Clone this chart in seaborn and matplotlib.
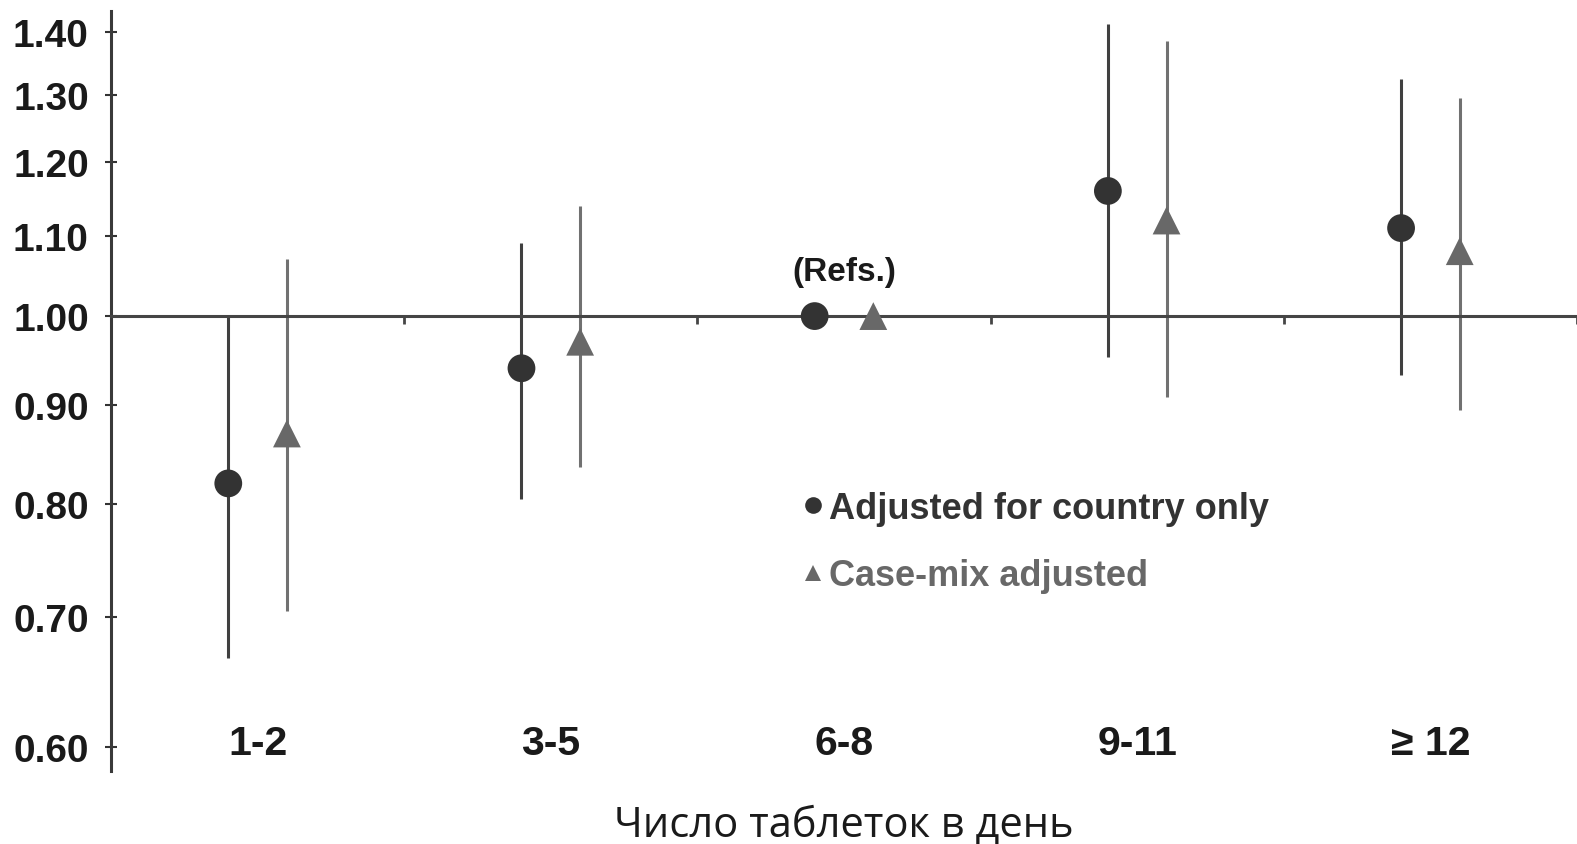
import numpy as np
import pandas as pd
import matplotlib
matplotlib.use("Agg")
import matplotlib.pyplot as plt
from matplotlib.lines import Line2D
from matplotlib.ticker import FixedLocator, FixedFormatter, NullLocator
import seaborn as sns

# Pill-count groups and the two adjusted estimates (odds ratios with 95% CI)
categories = ["1-2", "3-5", "6-8", "9-11", "≥ 12"]
series = ["Adjusted for country only", "Case-mix adjusted"]

country_or = [0.82, 0.94, 1.00, 1.16, 1.11]
country_lo = [0.667, 0.805, np.nan, 0.953, 0.933]
country_hi = [1.00, 1.09, np.nan, 1.414, 1.325]

casemix_or = [0.87, 0.97, 1.00, 1.12, 1.08]
casemix_lo = [0.705, 0.836, np.nan, 0.909, 0.895]
casemix_hi = [1.07, 1.139, np.nan, 1.385, 1.295]

y_ticks = [0.60, 0.70, 0.80, 0.90, 1.00, 1.10, 1.20, 1.30, 1.40]
ref_label = "(Refs.)"
ref_index = 2
x_title = "Число таблеток в день"

sns.set_theme(style="white")
plt.rcParams["font.family"] = ["Liberation Sans", "DejaVu Sans"]

# tidy table for plotting
rows = []
for i, cat in enumerate(categories):
    rows.append(dict(cat=cat, idx=i, series=series[0],
                     est=country_or[i], lo=country_lo[i], hi=country_hi[i]))
    rows.append(dict(cat=cat, idx=i, series=series[1],
                     est=casemix_or[i], lo=casemix_lo[i], hi=casemix_hi[i]))
df = pd.DataFrame(rows)
dodge = {series[0]: -0.1, series[1]: 0.1}
df["x"] = df["idx"] + df["series"].map(dodge)

marker_colors = {series[0]: "#333333", series[1]: "#686868"}
line_colors = {series[0]: "#404040", series[1]: "#717171"}
marker_shapes = {series[0]: "o", series[1]: "^"}

W, H = 1577, 845
fig = plt.figure(figsize=(W / 100, H / 100), dpi=100)
ax_left, ax_top, ax_bottom = 111, 12, 772
ax = fig.add_axes([ax_left / W, 1 - ax_bottom / H, 1 - ax_left / W, (ax_bottom - ax_top) / H])

ax.set_yscale("log")

# confidence intervals
for s in series:
    sub = df[(df["series"] == s)].dropna(subset=["lo", "hi"])
    ax.vlines(sub["x"], sub["lo"], sub["hi"], color=line_colors[s], lw=2.2, zorder=2)

# point estimates
sns.scatterplot(data=df, x="x", y="est", hue="series", style="series",
                palette=marker_colors, markers=marker_shapes, s=400,
                linewidth=0, legend=False, ax=ax, zorder=3)

ax.set_xlim(-0.5, len(categories) - 0.5)
ax.set_ylim(0.583, 1.436)

# y axis: log scale with plain decimal labels
ax.yaxis.set_major_locator(FixedLocator(y_ticks))
ax.yaxis.set_major_formatter(FixedFormatter([f"{v:.2f}" for v in y_ticks]))
ax.yaxis.set_minor_locator(NullLocator())
ax.tick_params(axis="y", direction="inout", length=8, width=1.5, color="#333333",
               pad=12, labelsize=28, labelcolor="#1a1a1a", left=True)
for lab in ax.get_yticklabels():
    lab.set_fontweight("bold")

# x axis drawn through the reference line at 1.00
for side in ("top", "right"):
    ax.spines[side].set_visible(False)
ax.spines["left"].set_linewidth(2.2)
ax.spines["left"].set_color("#3a3a3a")
ax.spines["bottom"].set_position(("data", 1.0))
ax.spines["bottom"].set_linewidth(2.2)
ax.spines["bottom"].set_color("#454545")
ax.set_xticks(np.arange(len(categories)) + 0.5)
ax.set_xticklabels([])
ax.tick_params(axis="x", direction="out", length=6, width=2, color="#454545", bottom=True)

for i, cat in enumerate(categories):
    ax.text(i, 0.037, cat, transform=ax.get_xaxis_transform(), ha="center", va="center",
            fontsize=29.5, fontweight="bold", color="#1a1a1a")

ax.annotate(ref_label, xy=(ref_index, 1.0), xytext=(0, 32), textcoords="offset points",
            ha="center", va="center", fontsize=24, fontweight="bold", color="#1a1a1a")

ax.set_xlabel(x_title, fontsize=30, family=["Open Sans", "DejaVu Sans"],
              fontweight="normal", color="#1a1a1a")
ax.xaxis.set_label_coords(0.5, (ax_bottom - 826) / (ax_bottom - ax_top))
ax.xaxis.label.set_va("center")
ax.set_ylabel("")

handles = [Line2D([], [], ls="none", marker=marker_shapes[s], ms=12,
                  color=marker_colors[s], markeredgewidth=0) for s in series]
ax.legend(handles, series, loc="upper left", bbox_to_anchor=(802 / W, 1 - 492 / H),
          bbox_transform=fig.transFigure, frameon=False,
          prop=dict(weight="bold", size=26), labelcolor=[marker_colors[s] for s in series],
          handlelength=0.6, handletextpad=0.15, borderpad=0, borderaxespad=0,
          labelspacing=0.9)

fig.savefig("out.png", dpi=100, facecolor="white")
